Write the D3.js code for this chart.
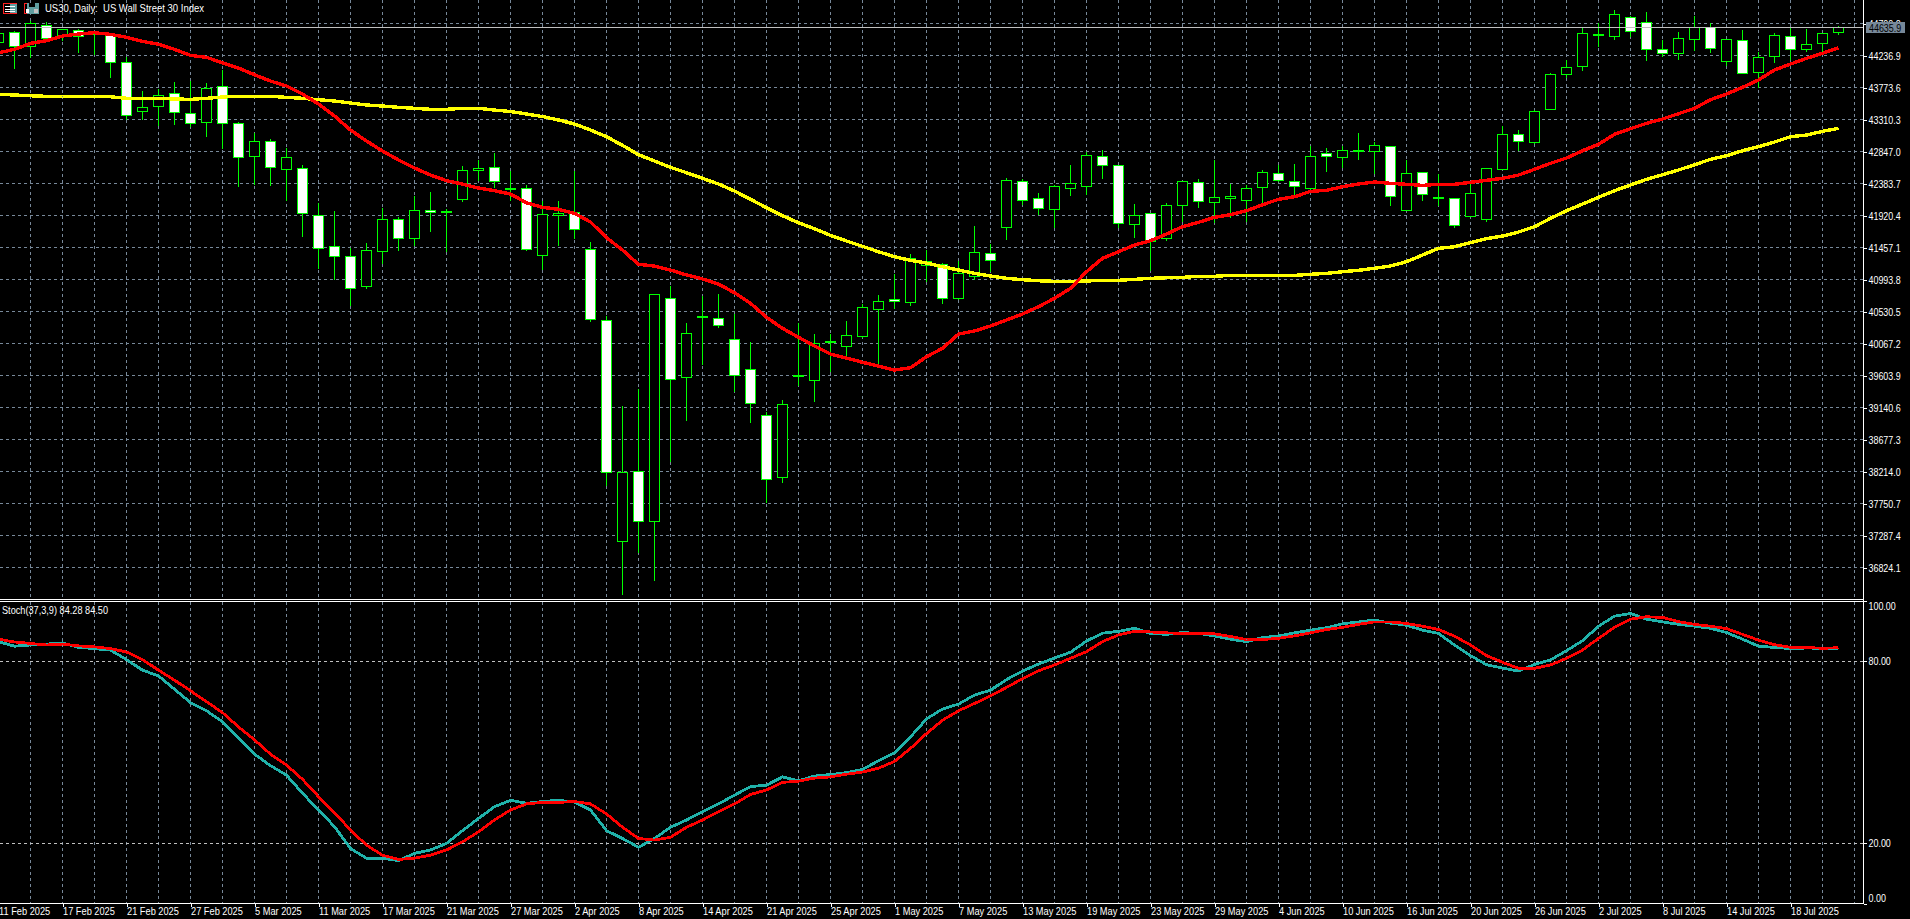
<!DOCTYPE html>
<html><head><meta charset="utf-8">
<script src="https://cdn.jsdelivr.net/npm/d3@7/dist/d3.min.js"></script>
<style>
html,body{margin:0;padding:0;background:#000;overflow:hidden}
svg{display:block}
text{font-family:"Liberation Sans",sans-serif;font-size:11px;fill:#fff}
</style></head><body><svg id="c" width="1910" height="919"></svg>
<script>
const title = "US30, Daily:  US Wall Street 30 Index";
const stochTitle = "Stoch(37,3,9) 84.28 84.50";
const bid = 44635.9;
const priceTicks = [44700.2,44236.9,43773.6,43310.3,42847.0,42383.7,41920.4,41457.1,40993.8,40530.5,40067.2,39603.9,39140.6,38677.3,38214.0,37750.7,37287.4,36824.1];
const stochTicks = [100,80,20,0];
const stochLevels = [80,20];
const dateLabels = ["11 Feb 2025","17 Feb 2025","21 Feb 2025","27 Feb 2025","5 Mar 2025","11 Mar 2025","17 Mar 2025","21 Mar 2025","27 Mar 2025","2 Apr 2025","8 Apr 2025","14 Apr 2025","21 Apr 2025","25 Apr 2025","1 May 2025","7 May 2025","13 May 2025","19 May 2025","23 May 2025","29 May 2025","4 Jun 2025","10 Jun 2025","16 Jun 2025","20 Jun 2025","26 Jun 2025","2 Jul 2025","8 Jul 2025","14 Jul 2025","18 Jul 2025"];
const open = [44418,44572,44364,44668,44519,44596,44543,44533,44138,43429,43495,43683,43400,43269,43785,43255,42777,42988,42589,42603,41923,41468,41329,40889,41396,41865,41584,41995,41966,42149,42569,42618,42294,42308,41338,41927,41961,41431,40403,37197,38217,37487,40721,39572,40446,40432,40128,39693,39027,38124,39586,39528,40089,40021,40165,40556,40707,40658,41203,41208,40718,41044,41373,41743,42415,42169,42004,42308,42337,42777,42647,41787,41952,41584,42062,42401,42105,42163,42134,42322,42531,42415,42308,42821,42757,42844,42849,42922,41990,42545,42188,42169,41903,41859,42583,43096,42974,43458,43958,44074,44529,44509,44790,44717,44326,44263,44465,44645,44147,44457,43987,44219,44514,44320,44413,44572];
const high = [44606,44606,44750,44726,44630,44630,44606,44558,44229,43737,43766,43863,43882,43848,44037,43278,43125,43038,42902,42666,42105,42000,41460,41532,42039,41913,42212,42275,42024,42651,42734,42835,42579,42376,42144,42144,42579,41546,40479,39176,39418,40783,40914,40378,40769,40794,40504,40089,39079,39259,40368,40214,40214,40407,40649,40783,41083,41373,41431,41242,41276,41782,41518,42473,42459,42260,42376,42666,42844,42878,42666,42097,41956,42115,42420,42459,42734,42380,42376,42589,42661,42676,42936,42907,42936,43125,42988,42941,42734,42564,42531,42184,42409,42618,43226,43172,43458,43998,44181,44639,44711,44905,44818,44876,44471,44591,44818,44721,44475,44616,44291,44572,44664,44635,44572,44674];
const low = [44345,44045,44210,44461,44451,44277,44258,43915,43313,43313,43226,43245,43206,43061,42887,42337,42372,42351,42144,41613,41150,40996,40624,40866,41228,41410,41483,41685,41396,42130,42434,42328,42144,41420,41141,41493,41590,40382,38008,36440,37038,36633,38361,38959,39756,40296,39369,38920,37762,38052,39466,39224,39659,39876,40157,39756,40576,40624,40962,40643,40697,41001,41116,41580,42086,41942,41743,42217,42231,42463,41749,41609,41131,41565,41830,42043,41816,41888,41830,42047,42409,42217,42299,42564,42618,42724,42531,42058,41990,42134,42072,41743,41903,41830,42583,42868,42965,43458,43915,44016,44364,44475,44509,44171,44229,44176,44316,44277,44095,43979,43770,44142,44181,44291,44283,44538];
const close = [44562,44364,44703,44485,44616,44519,44572,44138,43371,43487,43654,43414,43255,43762,43255,42763,42988,42618,42763,41952,41445,41329,40866,41416,41865,41590,41995,41966,41981,42574,42603,42409,42314,41431,41937,41952,41720,40411,38202,38202,37487,40779,39548,40214,40465,40330,39611,39195,38101,39187,39606,40070,40103,40186,40591,40672,40678,41300,41251,40721,41080,41387,41266,42430,42134,42018,42343,42386,42792,42641,41801,41923,41546,42068,42415,42120,42184,42198,42314,42545,42424,42337,42777,42771,42864,42868,42936,42192,42531,42227,42173,41772,42241,42603,43096,42988,43429,43964,44066,44558,44543,44833,44581,44320,44263,44486,44645,44341,44471,43979,44210,44529,44320,44399,44558,44636];
const maFast = [44277,44326,44413,44451,44519,44548,44567,44543,44500,44442,44399,44326,44239,44210,44132,44055,43958,43867,43795,43679,43534,43361,43158,42999,42854,42724,42608,42506,42424,42376,42318,42279,42231,42105,42039,42010,41952,41826,41599,41420,41213,41189,41131,41059,41001,40928,40802,40649,40446,40287,40157,40031,39915,39857,39795,39741,39683,39716,39876,39997,40204,40248,40320,40407,40494,40600,40721,40866,41106,41300,41396,41493,41555,41652,41758,41822,41894,41932,41990,42076,42155,42192,42270,42285,42337,42376,42405,42386,42372,42357,42372,42372,42401,42430,42459,42506,42589,42676,42752,42858,42951,43096,43177,43255,43317,43394,43472,43597,43679,43776,43882,44027,44113,44196,44268,44349];
const maSlow = [43675,43665,43654,43646,43640,43640,43640,43640,43617,43617,43617,43607,43602,43617,43636,43646,43646,43646,43631,43617,43597,43578,43549,43520,43505,43487,43472,43458,43458,43472,43472,43447,43426,43390,43353,43303,43245,43158,43061,42936,42800,42709,42618,42540,42459,42376,42275,42155,42033,41917,41816,41729,41633,41551,41474,41396,41323,41271,41232,41179,41131,41083,41044,41011,40991,40976,40967,40967,40972,40982,40982,40996,41011,41019,41025,41040,41040,41054,41054,41054,41054,41054,41069,41083,41106,41127,41156,41189,41251,41348,41445,41468,41526,41584,41623,41681,41758,41879,41990,42086,42184,42279,42362,42444,42511,42579,42655,42734,42786,42858,42916,42984,43061,43085,43139,43182];
const stochMain = [86.5,85.0,85.4,85.7,86.1,84.6,84.2,83.7,80.6,77.1,75.2,70.8,66.4,63.7,60.1,54.6,49.4,45.6,42.5,36.5,31.0,25.5,18.3,15.1,15.1,14.3,16.7,17.8,20.0,24.2,28.2,32.1,34.2,33.2,33.8,34.2,33.6,31.0,24.2,21.6,18.7,21.6,25.3,27.7,30.4,33.0,35.9,38.7,39.2,41.9,40.6,42.2,42.7,43.3,44.4,47.2,49.9,55.1,61.0,64.3,65.9,68.9,70.5,74.0,76.8,79.1,81.1,83.0,86.7,89.3,89.9,90.9,89.2,88.9,89.5,89.2,88.4,87.3,86.5,87.8,88.4,89.4,90.3,91.1,92.4,93.0,93.6,92.6,91.9,90.3,89.2,85.4,81.9,78.9,77.8,76.8,79.0,80.5,83.5,86.8,91.6,94.9,95.8,93.9,93.0,92.2,91.6,90.9,89.5,87.3,85.0,84.6,84.2,84.4,84.3,84.28];
const stochSignal = [87.3,86.4,85.9,85.4,85.7,85.1,84.8,84.2,83.1,80.6,77.1,73.8,70.3,66.7,63.1,58.4,54.1,49.4,45.8,41.1,35.4,30.1,24.4,19.4,16.1,14.7,15.1,16.1,17.8,20.5,23.8,27.7,31.0,33.0,33.5,33.5,33.8,33.0,29.7,25.3,21.6,21.1,22.0,25.3,27.7,30.4,33.0,36.1,37.6,40.1,40.5,41.5,41.9,42.8,43.5,44.8,47.0,51.3,56.2,60.6,63.7,66.1,68.6,71.4,74.3,76.9,78.8,81.0,83.2,86.5,88.7,89.9,89.7,89.4,89.2,89.2,89.1,88.2,87.2,87.2,87.6,88.4,89.4,90.5,91.2,92.2,93.0,93.0,92.5,91.6,90.5,88.3,85.4,81.9,79.7,77.7,77.7,78.8,81.0,83.7,87.6,91.2,93.9,94.7,94.5,93.1,92.2,91.6,90.8,88.9,87.0,85.5,84.6,84.6,84.3,84.50];

const W = 1910, H = 919, axisX = 1863.5, sepTop = 599.5, sepBot = 601.5, botY = 903.5;
const svg = d3.select("#c");
const x = d3.scaleLinear().domain([0,115]).range([-1.5,1838.5]);
const yP = d3.scaleLinear().domain([44236.9,36824.1]).range([55.5,567.5]);
const yS = d3.scaleLinear().domain([0,100]).range([904,600.7]);
const snap = v => Math.floor(v)+0.5;
const bars = d3.range(open.length);
const gridCol = "#778899", dash = "3,3";
const fit = (sel,k) => sel.each(function(){
  this.setAttribute("textLength",this.getComputedTextLength()*k);
  this.setAttribute("lengthAdjust","spacingAndGlyphs");
});

svg.append("rect").attr("width",W).attr("height",H).attr("fill","#000");
const crisp = svg.append("g").attr("shape-rendering","crispEdges");

// grid
const gridBars = d3.range(2,117,2);
crisp.append("g").selectAll("line").data(gridBars).join("line")
  .attr("x1",d=>snap(x(d))).attr("x2",d=>snap(x(d))).attr("y1",0).attr("y2",sepTop)
  .attr("stroke",gridCol).attr("stroke-dasharray",dash);
crisp.append("g").selectAll("line").data(gridBars).join("line")
  .attr("x1",d=>snap(x(d))).attr("x2",d=>snap(x(d))).attr("y1",sepBot).attr("y2",botY)
  .attr("stroke",gridCol).attr("stroke-dasharray",dash);
crisp.append("g").selectAll("line").data(priceTicks).join("line")
  .attr("x1",0).attr("x2",axisX).attr("y1",d=>snap(yP(d))).attr("y2",d=>snap(yP(d)))
  .attr("stroke",gridCol).attr("stroke-dasharray",dash);
crisp.append("g").selectAll("line").data(stochLevels).join("line")
  .attr("x1",0).attr("x2",axisX).attr("y1",d=>snap(yS(d))).attr("y2",d=>snap(yS(d)))
  .attr("stroke","#c0c0c0").attr("stroke-dasharray",dash);

// candles
const cg = crisp.append("g");
cg.selectAll("line.w").data(bars).join("line").attr("class","w")
  .attr("x1",i=>snap(x(i))).attr("x2",i=>snap(x(i)))
  .attr("y1",i=>snap(yP(high[i]))).attr("y2",i=>snap(yP(low[i])))
  .attr("stroke","#00ff00");
cg.selectAll("rect").data(bars).join("rect")
  .attr("x",i=>snap(x(i))-5).attr("width",10)
  .attr("y",i=>snap(yP(Math.max(open[i],close[i]))))
  .attr("height",i=>Math.max(1,snap(yP(Math.min(open[i],close[i])))-snap(yP(Math.max(open[i],close[i])))))
  .attr("fill",i=>close[i]>=open[i]?"#000":"#fff")
  .attr("stroke","#00ff00");

// bid line
crisp.append("line").attr("x1",0).attr("x2",axisX).attr("y1",snap(yP(bid))).attr("y2",snap(yP(bid))).attr("stroke","#c0c0c0");

// moving averages
const lineP = d3.line().x((d,i)=>x(i)).y(d=>yP(d));
const lineS = d3.line().x((d,i)=>x(i)).y(d=>yS(d));
svg.append("path").attr("d",lineP(maSlow)).attr("fill","none").attr("stroke","#ffff00").attr("stroke-width",3.4).attr("shape-rendering","crispEdges");
svg.append("path").attr("d",lineP(maFast)).attr("fill","none").attr("stroke","#ff0000").attr("stroke-width",3.4).attr("shape-rendering","crispEdges");
svg.append("path").attr("d",lineS(stochMain)).attr("fill","none").attr("stroke","#20b2aa").attr("stroke-width",2.8).attr("shape-rendering","crispEdges");
svg.append("path").attr("d",lineS(stochSignal)).attr("fill","none").attr("stroke","#ff0000").attr("stroke-width",2.8).attr("shape-rendering","crispEdges");

// frame
const fr = crisp.append("g").attr("stroke","#fff");
fr.append("line").attr("x1",0).attr("x2",axisX).attr("y1",sepTop).attr("y2",sepTop);
fr.append("line").attr("x1",0).attr("y1",sepBot).attr("y2",sepBot).attr("x2",axisX+3);
fr.append("line").attr("x1",axisX).attr("x2",axisX).attr("y1",0).attr("y2",botY);

// axes
const axP = d3.axisRight(yP).tickValues(priceTicks).tickFormat(d3.format(".1f")).tickSize(3).tickPadding(2);
const gP = svg.append("g").attr("transform",`translate(${axisX},0)`).call(axP);
gP.select(".domain").remove();
gP.selectAll("line").attr("stroke","#fff").attr("shape-rendering","crispEdges");
gP.selectAll("text").attr("fill","#fff").style("font-family",'"Liberation Sans"').style("font-size","11px").call(fit,0.81);

svg.append("rect").attr("x",1866).attr("y",22).attr("width",39).attr("height",11).attr("fill","#778899");
svg.append("text").attr("x",1869).attr("y",yP(bid)).attr("dy","0.36em").style("fill","#000").text(d3.format(".1f")(bid)).call(fit,0.81);

const axS = d3.axisRight(yS).tickValues(stochTicks).tickFormat(d3.format(".2f")).tickSize(3).tickPadding(2);
const gS = svg.append("g").attr("transform",`translate(${axisX},0)`).call(axS);
gS.select(".domain").remove();
gS.selectAll("line").attr("stroke","#fff").attr("shape-rendering","crispEdges");
gS.selectAll("text").attr("fill","#fff").style("font-family",'"Liberation Sans"').style("font-size","11px")
  .attr("dy",d=>d===100?"0.8em":d===0?"-0.2em":"0.32em").call(fit,0.81);

const axB = d3.axisBottom(x).tickValues(dateLabels.map((d,i)=>i*4)).tickFormat((d,i)=>dateLabels[i]).tickSize(3);
const gB = svg.append("g").attr("transform",`translate(0,${botY})`).call(axB);
gB.select(".domain").remove();
svg.append("line").attr("x1",0).attr("x2",axisX).attr("y1",botY).attr("y2",botY).attr("stroke","#fff").attr("shape-rendering","crispEdges");
gB.selectAll("line").attr("stroke","#fff").attr("shape-rendering","crispEdges");
gB.selectAll("text").attr("text-anchor","start").attr("fill","#fff").attr("x",0).attr("y",4).attr("dy","0.71em")
  .style("font-family",'"Liberation Sans"').style("font-size","11px").call(fit,0.84);

// header
const ic = svg.append("g").attr("shape-rendering","crispEdges");
ic.append("rect").attr("x",3.5).attr("y",3.5).attr("width",13).attr("height",10).attr("fill","#000").attr("stroke","#ff2020");
ic.append("rect").attr("x",10).attr("y",4).attr("width",7).attr("height",9).attr("fill","#5f9ea0");
[6,8.5,11].forEach(y=>ic.append("rect").attr("x",5).attr("y",y).attr("width",10).attr("height",1).attr("fill","#fff"));
ic.append("rect").attr("x",24.5).attr("y",3.5).attr("width",8).attr("height",10).attr("fill","#000").attr("stroke","#ff2020");
ic.append("rect").attr("x",27).attr("y",3).attr("width",12).attr("height",11).attr("fill","#5f9ea0");
ic.append("rect").attr("x",29).attr("y",3).attr("width",6).attr("height",4).attr("fill","#000");
ic.append("rect").attr("x",26).attr("y",9).attr("width",3).attr("height",4).attr("fill","#fff");
ic.append("rect").attr("x",34).attr("y",9).attr("width",4).attr("height",4).attr("fill","#c0c0c0");
svg.append("text").attr("x",45).attr("y",8.5).attr("dy","0.36em").style("white-space","pre").text(title)
  .attr("textLength",159).attr("lengthAdjust","spacingAndGlyphs");
svg.append("text").attr("x",2).attr("y",610.5).attr("dy","0.36em").text(stochTitle)
  .attr("textLength",106).attr("lengthAdjust","spacingAndGlyphs");
</script></body></html>
